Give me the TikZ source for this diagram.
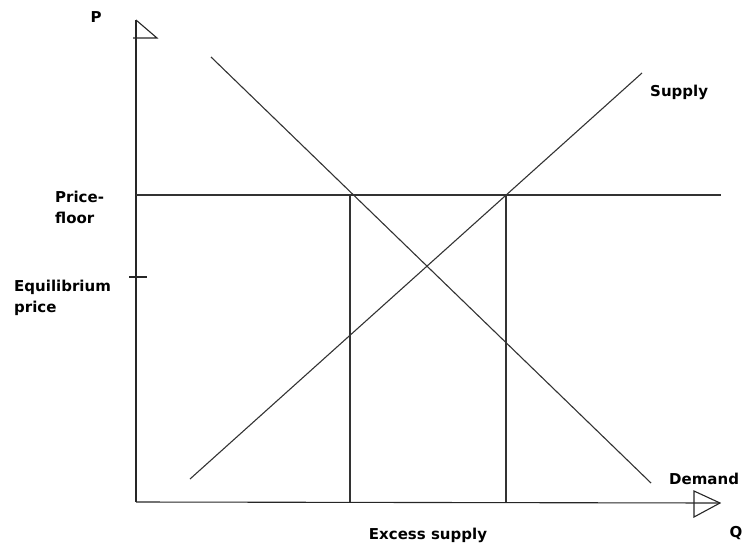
\documentclass[tikz,border=0pt]{standalone}
\usepackage{fontspec}
\setmainfont{DejaVu Sans}
\usetikzlibrary{positioning, calc}

\begin{document}
\begin{tikzpicture}[
    x=1pt, y=-1pt,
    every node/.style={text=black, font=\fontsize{15}{21}\selectfont\bfseries},
    axisline/.style={line width=1.1pt, draw=black!85},
    curve/.style={line width=1.1pt, draw=black!80},
    guide/.style={line width=1.1pt, draw=black!80},
    lbl/.style={inner sep=0pt, align=left},
  ]

  % Frame
  \useasboundingbox (0,0) rectangle (742,547);

  % Axes
  \coordinate (origin) at (136,502);
  \coordinate (ptop) at (136,20);
  \coordinate (qend) at (720,503);
  \draw[axisline] (origin) -- (ptop);
  \draw[axisline] (origin) -- (qend);
  \draw[axisline] (ptop) -- (157,38) -- (133,38);
  \draw[axisline] (694,491) -- (qend) -- (694,517) -- cycle;

  % Equilibrium tick
  \coordinate (tickl) at (129,277);
  \coordinate (tickr) at (147,277);
  \draw[axisline] (tickl) -- (tickr);

  % Curves
  \coordinate (dstart) at (211,57);
  \coordinate (dend) at (651,483);
  \coordinate (sstart) at (190,479);
  \coordinate (send) at (642,73);
  \draw[curve] (dstart) -- (dend);
  \draw[curve] (sstart) -- (send);

  % Price floor and excess supply
  \coordinate (floorl) at (136,195);
  \coordinate (floorr) at (721,195);
  \coordinate (qd) at (350,195);
  \coordinate (qs) at (506,195);
  \draw[guide] (floorl) -- (floorr);
  \draw[guide] (qd) -- (qd |- origin);
  \draw[guide] (qs) -- (qs |- origin);

  % Labels
  \node[lbl] (plabel) at (96,17) {P};
  \node[lbl] (qlabel) at (736,533) {Q};
  \node[lbl, anchor=west] (supplylbl) at (650,92) {Supply};
  \node[lbl, anchor=west] (demandlbl) at (669,479) {Demand};
  \node[lbl, anchor=north west] (floorlbl) at (55,191) {Price-\\floor};
  \node[lbl, anchor=north west] (eqlbl) at (14,280) {Equilibrium\\price};
  \node[lbl] (excesslbl) at (428,535) {Excess supply};

\end{tikzpicture}
\end{document}
